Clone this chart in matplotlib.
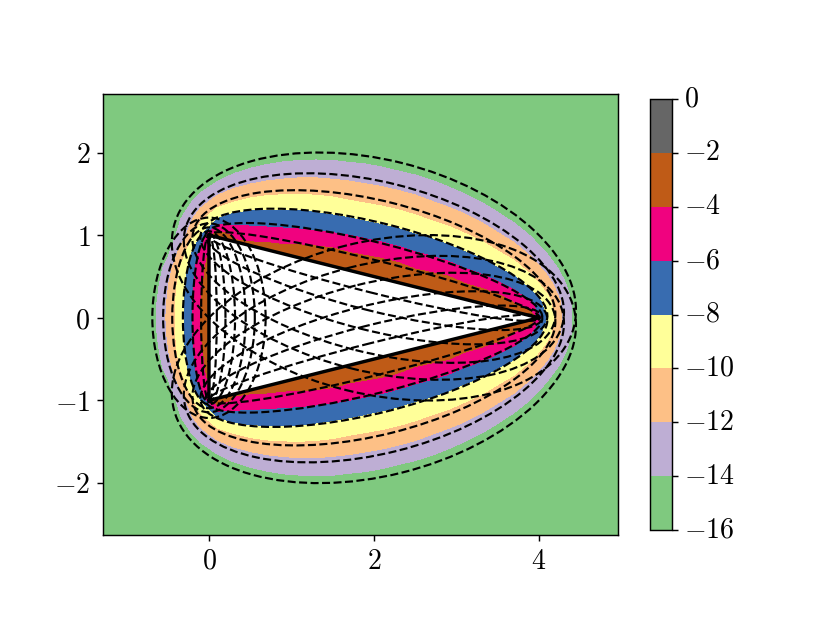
import numpy as np
import matplotlib
matplotlib.use('Agg')
import matplotlib.pyplot as plt
from matplotlib.patches import Ellipse, Polygon

plt.rcParams['mathtext.fontset'] = 'cm'
plt.rcParams['font.family'] = ['DejaVu Serif']

# Grid of band values (upper half, y >= 0), mirrored below
x_grid = [-1.3, -1.1, -0.9, -0.7, -0.5, -0.3, -0.1, 0.1, 0.3, 0.5, 0.7, 0.9, 1.1, 1.3, 1.5, 1.7, 1.9,
          2.1, 2.3, 2.5, 2.7, 2.9, 3.1, 3.3, 3.5, 3.7, 3.9, 4.1, 4.3, 4.5, 4.7, 4.9, 5.1]
y_grid = [0.0, 0.2, 0.4, 0.6, 0.8, 1.0, 1.2, 1.4, 1.6, 1.8, 2.0, 2.2, 2.4, 2.6, 2.8]

row_00 = [-16, -16, -16, -15, -11.6, -8, -4] + [-2.5] * 20 + [-8.2, -12.5, -15.5, -16, -16, -16]
row_02 = [-16, -16, -16, -15.2, -11.8, -8, -4] + [-2.5] * 16 + [-2.1, -2.8, -4.2, -6, -9.2, -12.7, -15.5, -16, -16, -16]
row_04 = [-16, -16, -16, -15.7, -12.2, -8.3, -4.3] + [-2.5] * 12 + [-2, -2.3, -2.8, -3.8, -4.5, -5.5, -6.8, -8.7,
                                                                    -11, -13.6, -16, -16, -16, -16]
row_06 = [-16, -16, -16, -16, -13.1, -8.9, -4.5] + [-2.5] * 8 + [-2, -2.3, -2.7, -3.3, -4.1, -4.6, -5.1, -6, -6.8,
                                                                 -7.9, -9.1, -10.7, -12.7, -14.7, -16, -16, -16, -16]
row_08 = [-16, -16, -16, -16, -14.5, -10.5, -5.3] + [-2.5] * 4 + [-3, -3, -3.2, -3.5, -4.1, -4.5, -4.9, -5.4, -6,
                                                                  -6.5, -7.2, -8, -8.8, -9.9, -11, -12.5, -14.2,
                                                                  -15.9, -16, -16, -16, -16]
row_10 = [-16, -16, -16, -16, -15.5, -12.5, -8.1, -2.3, -4.5, -5, -5.2, -5.3, -5.4, -5.5, -5.7, -6, -6.4, -6.8,
          -7.3, -7.9, -8.4, -9, -9.8, -10.6, -11.7, -12.8, -14.1, -15.5, -16, -16, -16, -16, -16]
row_12 = [-16, -16, -16, -16, -16, -13.5, -10.5, -8, -7, -6.8, -6.8, -6.9, -7, -7.3, -7.6, -7.9, -8.3, -8.7,
          -9.1, -9.6, -10.2, -10.8, -11.5, -12.4, -13.4, -14.4, -15.5, -16, -16, -16, -16, -16, -16]
row_14 = [-16, -16, -16, -16, -16, -15, -12.8, -11, -10, -9.4, -9.1, -9, -9, -9.2, -9.4, -9.8, -10.1, -10.4,
          -10.8, -11.3, -11.9, -12.5, -13.2, -14, -14.9, -15.9, -16, -16, -16, -16, -16, -16, -16]
row_16 = [-16, -16, -16, -16, -16, -16, -14.9, -13.5, -12.4, -11.8, -11.4, -11.2, -11.1, -11.1, -11.3, -11.5,
          -11.8, -12.1, -12.5, -12.9, -13.5, -14.1, -14.8, -15.5, -16, -16, -16, -16, -16, -16, -16, -16, -16]
row_18 = [-16] * 7 + [-15.5, -14.6, -13.9, -13.5, -13.2, -13, -13, -13.1, -13.3, -13.5, -13.8, -14.2, -14.6,
                      -15, -15.6, -16] + [-16] * 10
row_20 = [-16] * 7 + [-16, -16, -15.8, -15.3, -15, -14.9, -14.8, -14.8, -15, -15.1, -15.4, -15.7] + [-16] * 14
row_22 = [-16] * 33
row_24 = [-16] * 33
row_26 = [-16] * 33
row_28 = [-16] * 33

# Triangle corners and the ellipse parameter of the dashed curves
tri_x = [0, 4, 0]
tri_y = [1, 0, -1]
rho_levels = [1.90, 1.70, 1.54, 1.365, 1.22, 1.10]

levels = [-16, -14, -12, -10, -8, -6, -4, -2, 0]
xticks = [0, 2, 4]
yticks = [-2, -1, 0, 1, 2]

upper = np.array([row_00, row_02, row_04, row_06, row_08, row_10, row_12, row_14,
                  row_16, row_18, row_20, row_22, row_24, row_26, row_28])
Z = np.vstack([upper[:0:-1], upper])
Y = np.concatenate([-np.array(y_grid[:0:-1]), y_grid])
X = np.array(x_grid)

fig = plt.figure(figsize=(830 / 130, 623 / 130), dpi=130)
ax = fig.add_axes([103 / 830, 1 - 535 / 623, 515 / 830, 441 / 623])
cax = fig.add_axes([650 / 830, 1 - 530 / 623, 21.5 / 830, 431 / 623])

cs = ax.contourf(X, Y, Z, levels=levels, cmap='Accent')

# white inside of the triangle, then the dashed ellipses on top
corners = np.column_stack([tri_x, tri_y])
ax.add_patch(Polygon(corners, closed=True, facecolor='white', edgecolor='black', lw=1.9, zorder=3))

for i in range(3):
    p0 = corners[i]
    p1 = corners[(i + 1) % 3]
    mid = (p0 + p1) / 2
    c = np.hypot(*(p1 - p0)) / 2
    ang = np.degrees(np.arctan2(p1[1] - p0[1], p1[0] - p0[0]))
    for rho in rho_levels:
        w = c * (rho + 1 / rho)
        h = c * (rho - 1 / rho)
        ax.add_patch(Ellipse(mid, w, h, angle=ang, fill=False, edgecolor='black',
                             lw=1.2, ls='--', zorder=4))

ax.set_xlim(-1.285, 4.96)
ax.set_ylim(-2.63, 2.71)
ax.set_xticks(xticks)
ax.set_xticklabels(['$%d$' % t for t in xticks])
ax.set_yticks(yticks)
ax.set_yticklabels(['$%d$' % t for t in yticks])
ax.tick_params(labelsize=15.5)

cb = fig.colorbar(cs, cax=cax)
cb.set_ticks(levels)
cb.set_ticklabels(['$%d$' % t for t in levels], va='center')
cb.ax.tick_params(labelsize=15.5)

fig.savefig('out.png', dpi=130)
